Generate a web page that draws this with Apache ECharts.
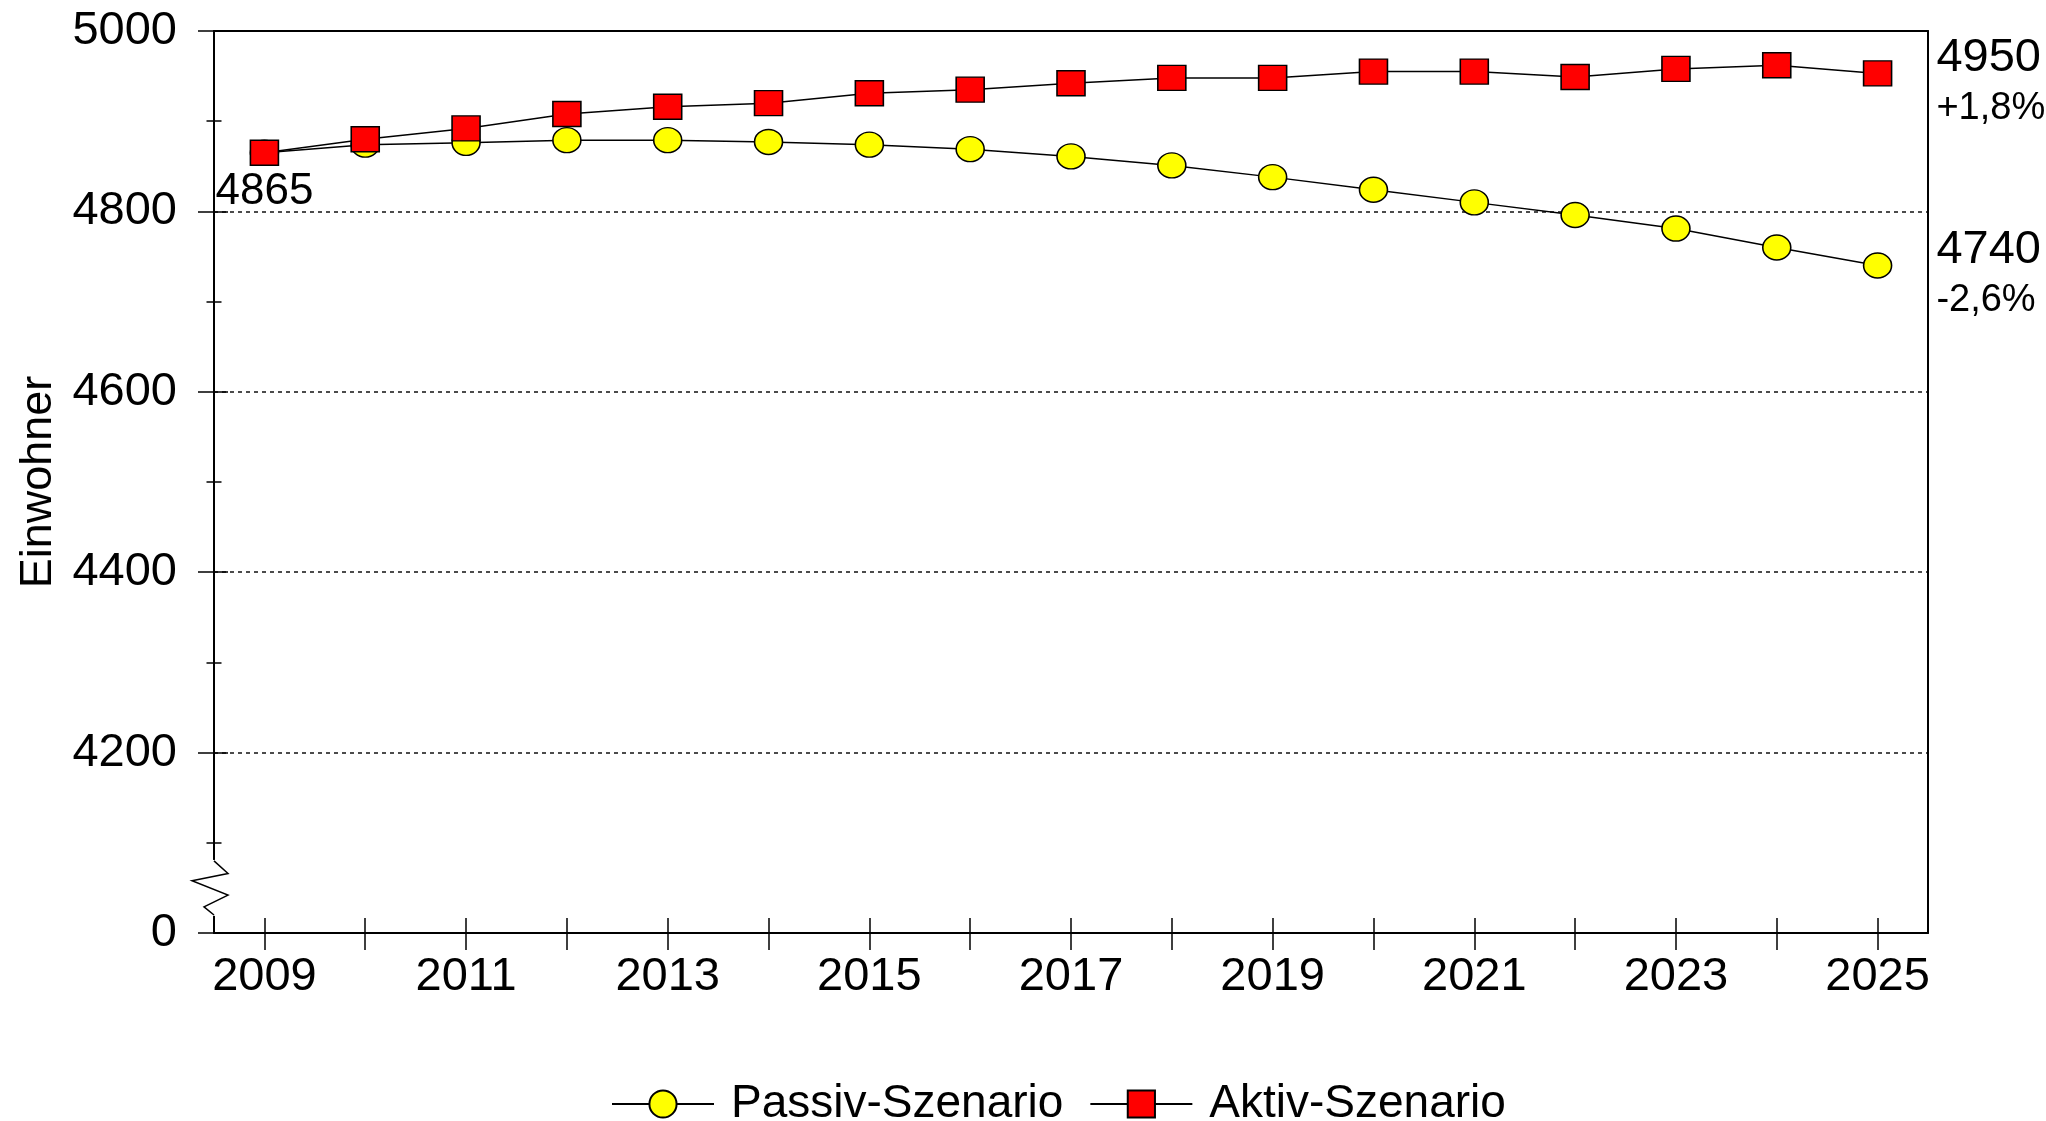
<!DOCTYPE html>
<html>
<head>
<meta charset="utf-8">
<script src="https://cdn.jsdelivr.net/npm/echarts@6/dist/echarts.min.js"></script>
<style>
  html, body { margin: 0; padding: 0; background: #fff; }
  #chart { width: 2046px; height: 1121px; }
</style>
</head>
<body>
<div id="chart"></div>
<script>
var years = ["2009", "2010", "2011", "2012", "2013", "2014", "2015", "2016", "2017",
  "2018", "2019", "2020", "2021", "2022", "2023", "2024", "2025"];
var passiv = [4865, 4874, 4876, 4879, 4879, 4877, 4874, 4869, 4861, 4851, 4838, 4824, 4810, 4796, 4781, 4760, 4740];
var aktiv = [4865, 4880, 4892, 4908, 4916, 4920, 4931, 4935, 4942, 4948, 4948, 4955, 4955, 4949, 4958, 4962, 4953];
var yTicks = [4000, 4200, 4400, 4600, 4800, 5000];

var FONT = "Liberation Sans, Arial, sans-serif";
var GRID_LEFT = 214;

var chart = echarts.init(document.getElementById("chart"));

// Endwert + Veraenderung gegenueber 2009 als Beschriftung
function endLabel(arr) {
  var v = arr[arr.length - 1];
  var pct = (v / arr[0] - 1) * 100;
  var s = (pct >= 0 ? "+" : "-") + Math.abs(pct).toFixed(1).replace(".", ",") + "%";
  return "{a|" + Math.round(v / 10) * 10 + "}\n{b|" + s + "}";
}

var endLabelStyle = {
  show: true,
  position: "right",
  distance: 44,
  offset: [0, 9],
  align: "left",
  rich: {
    a: { fontSize: 47, lineHeight: 52, color: "#000", fontFamily: FONT },
    b: { fontSize: 38, lineHeight: 48, color: "#000", fontFamily: FONT }
  }
};

function buildData(arr, withStart) {
  return arr.map(function (v, i) {
    if (i === arr.length - 1) {
      return { value: v, label: Object.assign({ formatter: endLabel(arr) }, endLabelStyle) };
    }
    if (i === 0 && withStart) {
      return {
        value: v,
        label: {
          show: true, position: "bottom", distance: 4, formatter: String(v),
          fontSize: 44, color: "#000", fontFamily: FONT
        }
      };
    }
    return v;
  });
}

var option = {
  animation: false,
  textStyle: { fontFamily: FONT },
  grid: { left: GRID_LEFT, right: 118, top: 31, bottom: 188, containLabel: false, outerBoundsMode: "none" },
  legend: {
    left: 606,
    top: 1076,
    itemWidth: 102,
    itemHeight: 34,
    itemGap: 26,
    textStyle: { fontSize: 46, color: "#000", fontFamily: FONT, padding: [0, 0, 0, 12] },
    data: ["Passiv-Szenario", "Aktiv-Szenario"]
  },
  xAxis: [
    {
      type: "category",
      data: years,
      boundaryGap: true,
      axisLine: { lineStyle: { color: "#000", width: 2 } },
      axisTick: { show: true, alignWithLabel: true, interval: 0, length: 17, lineStyle: { color: "#000", width: 1.5 } },
      axisLabel: { interval: 1, fontSize: 47, color: "#000", margin: 21, fontFamily: FONT },
      splitLine: { show: false }
    },
    {
      type: "category",
      data: years,
      boundaryGap: true,
      position: "bottom",
      axisLine: { show: false },
      axisTick: { show: true, inside: true, alignWithLabel: true, interval: 0, length: 15, lineStyle: { color: "#000", width: 1.5 } },
      axisLabel: { show: false },
      splitLine: { show: false }
    },
    {
      type: "category",
      data: years,
      position: "top",
      axisLine: { lineStyle: { color: "#000", width: 2 } },
      axisTick: { show: false },
      axisLabel: { show: false }
    }
  ],
  yAxis: [
    {
      type: "value",
      min: yTicks[0],
      max: yTicks[yTicks.length - 1],
      interval: 200,
      name: "Einwohner",
      nameLocation: "middle",
      nameRotate: 90,
      nameGap: 152,
      nameTextStyle: { fontSize: 45, color: "#000", fontFamily: FONT },
      axisLine: { show: true, lineStyle: { color: "#000", width: 2 } },
      axisTick: { show: true, length: 16, lineStyle: { color: "#000", width: 1.5 } },
      minorTick: { show: true, splitNumber: 2, length: 7.5, lineStyle: { color: "#000", width: 1.5 } },
      axisLabel: {
        fontSize: 47, color: "#000", margin: 37, fontFamily: FONT,
        formatter: function (v) { return v === yTicks[0] ? "0" : String(v); }
      },
      splitLine: {
        show: true,
        showMinLine: false,
        showMaxLine: false,
        lineStyle: { color: "#111", width: 1.5, type: [4, 4] }
      }
    },
    {
      type: "value",
      min: yTicks[0],
      max: yTicks[yTicks.length - 1],
      interval: 200,
      position: "left",
      axisLine: { show: false },
      axisTick: { show: true, inside: true, length: 14, lineStyle: { color: "#000", width: 1.5 } },
      minorTick: { show: true, splitNumber: 2, length: 7.5, lineStyle: { color: "#000", width: 1.5 } },
      axisLabel: { show: false },
      splitLine: { show: false }
    },
    {
      type: "value",
      min: yTicks[0],
      max: yTicks[yTicks.length - 1],
      position: "right",
      axisLine: { show: true, lineStyle: { color: "#000", width: 2 } },
      axisTick: { show: false },
      axisLabel: { show: false },
      splitLine: { show: false }
    }
  ],
  series: [
    {
      name: "Passiv-Szenario",
      type: "line",
      data: buildData(passiv, false),
      symbol: "circle",
      symbolSize: [28, 25],
      itemStyle: { color: "#FFFF00", borderColor: "#000", borderWidth: 1.5 },
      lineStyle: { color: "#000", width: 1.5 },
      z: 3
    },
    {
      name: "Aktiv-Szenario",
      type: "line",
      data: buildData(aktiv, true),
      symbol: "rect",
      symbolSize: [28, 25],
      itemStyle: { color: "#FF0000", borderColor: "#000", borderWidth: 1.5 },
      lineStyle: { color: "#000", width: 1.5 },
      z: 4
    }
  ]
};

chart.setOption(option);

// Achsenbruch (Zickzack) zwischen 0 und 4100
var zig = [[0, 4080], [14, 4066], [-22, 4058], [14, 4042], [-10, 4029], [0, 4020]];
var pts = zig.map(function (p) {
  return [GRID_LEFT + p[0], chart.convertToPixel({ yAxisIndex: 0 }, p[1])];
});
var yTop = chart.convertToPixel({ yAxisIndex: 0 }, 4081);
var yBot = chart.convertToPixel({ yAxisIndex: 0 }, 4019);
chart.setOption({
  graphic: [
    {
      type: "rect",
      shape: { x: GRID_LEFT - 3, y: yTop, width: 6, height: yBot - yTop },
      style: { fill: "#fff" },
      z: 100
    },
    {
      type: "polyline",
      shape: { points: pts },
      style: { stroke: "#000", lineWidth: 1.5, fill: null },
      z: 101
    }
  ]
});
</script>
</body>
</html>
